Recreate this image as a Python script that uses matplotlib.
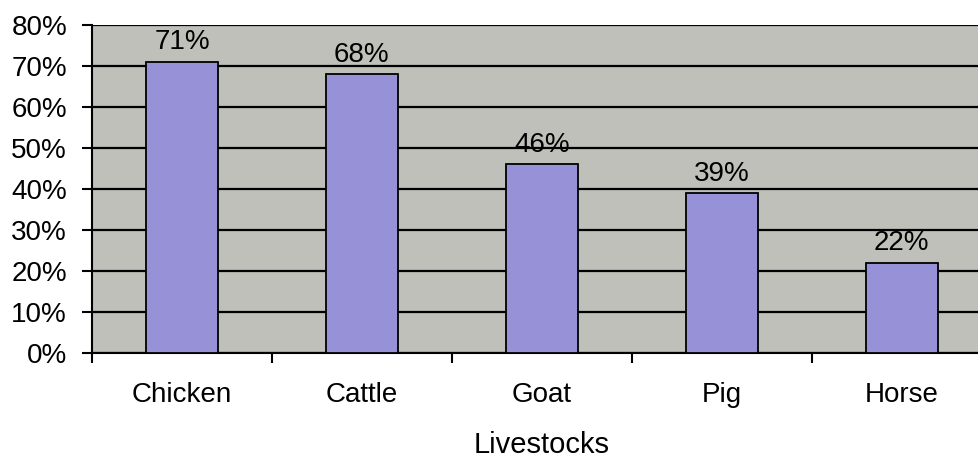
import matplotlib
import numpy as np
from matplotlib import pyplot as plt
from matplotlib.ticker import PercentFormatter

matplotlib.rcParams.update({'font.size': 20, 'font.family': ['Liberation Sans', 'DejaVu Sans']})

livestocks = ["Chicken", "Cattle", "Goat", "Pig", "Horse"]
share = [71, 68, 46, 39, 22]
y_ticks = [0, 10, 20, 30, 40, 50, 60, 70, 80]

fig = plt.figure(figsize=(9.79, 4.58), dpi=100)
# plot area runs past the right edge, as in the scanned original
ax = fig.add_axes([0.094, 0.2293, 0.919, 0.7162])
ax.set_facecolor("#c0c0ba")

x = np.arange(len(livestocks))
bars = ax.bar(x, share, width=0.4, color="#9791d8", edgecolor="black", linewidth=1.3, zorder=3)
for b, v in zip(bars, share):
    ax.text(b.get_x() + b.get_width() / 2, v + 1.6, f"{v}%", ha="center", va="bottom", fontsize=20, zorder=4)

ax.set_xlim(-0.5, len(livestocks) - 0.5)
ax.set_ylim(0, 80)
ax.set_yticks(y_ticks)
ax.yaxis.set_major_formatter(PercentFormatter(decimals=0))
ax.grid(axis="y", color="black", linewidth=1.6, zorder=1)

ax.set_xticks(np.arange(-0.5, len(livestocks) - 0.4, 1))
ax.set_xticklabels([])
ax.set_xticks(x, minor=True)
ax.set_xticklabels(livestocks, minor=True)
ax.tick_params(axis="x", which="minor", length=0, pad=21)
ax.tick_params(axis="x", which="major", length=7, width=1.5, direction="out")
ax.tick_params(axis="y", length=7, width=1.5, direction="out", pad=11)

for s in ["top", "right"]:
    ax.spines[s].set_visible(False)
ax.spines["left"].set_linewidth(1.5)
ax.spines["bottom"].set_linewidth(1.5)

ax.set_xlabel("Livestocks", fontsize=21, labelpad=16.5)

plt.savefig("out.png", dpi=100)
